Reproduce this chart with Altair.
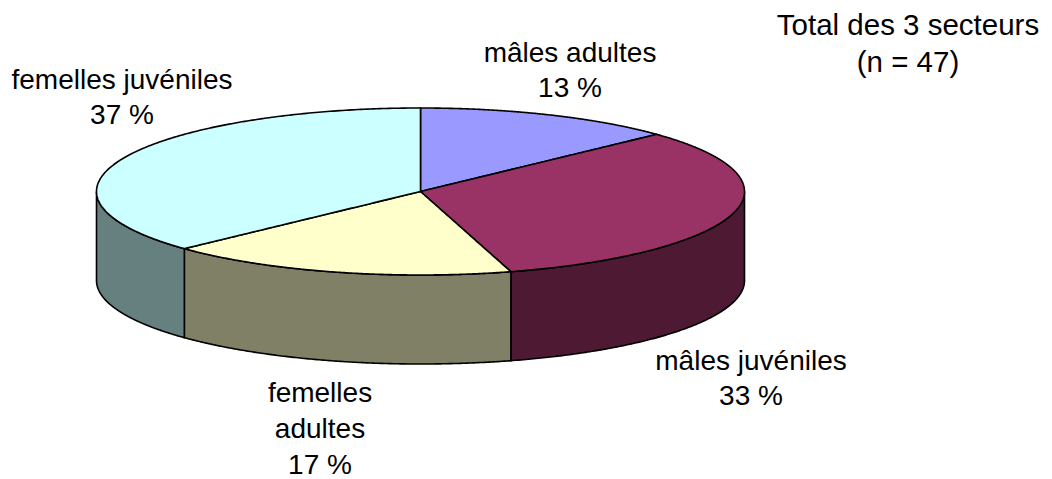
import numpy as np
import pandas as pd
import altair as alt

# Slice shares (clockwise from 12 o'clock)
slice_names = ["mâles adultes", "mâles juvéniles", "femelles adultes", "femelles juvéniles"]
slice_shares = [13.0, 32.5, 17.5, 37.0]
top_colors = ["#9999FF", "#993366", "#FFFFCC", "#CCFFFF"]
side_colors = ["#4D1933", "#4D1933", "#808066", "#668080"]

label_texts = ["mâles adultes", "13 %", "mâles juvéniles", "33 %", "femelles", "adultes", "17 %",
               "femelles juvéniles", "37 %"]
label_x = [570, 570, 751, 751, 320, 320, 320, 122, 122]
label_y = [54, 89, 362, 397, 394, 430, 466, 81, 116]
note_texts = ["Total des 3 secteurs", "(n = 47)"]
note_x = [908, 908]
note_y = [26, 63]

CX, CY, RX, RY, DEPTH = 420.5, 191.5, 324.0, 83.5, 89.0


def ex(t):
    return CX + RX * np.sin(t)


def ey(t):
    return CY - RY * np.cos(t)


edges = np.radians(np.cumsum([0] + slice_shares) * 3.6)
top_rows, side_rows = [], []
for i, name in enumerate(slice_names):
    a, b = edges[i], edges[i + 1]
    th = np.linspace(a, b, 240)
    px = np.r_[CX, ex(th), CX]
    py = np.r_[CY, ey(th), CY]
    xs = np.unique(np.round(px, 3))
    for x in xs:
        ys = []
        for j in range(len(px) - 1):
            x0, x1, y0, y1 = px[j], px[j + 1], py[j], py[j + 1]
            lo, hi = min(x0, x1) - 1e-3, max(x0, x1) + 1e-3
            if lo <= x <= hi:
                if abs(x1 - x0) < 1e-9:
                    ys += [y0, y1]
                else:
                    ys.append(y0 + (y1 - y0) * np.clip((x - x0) / (x1 - x0), 0, 1))
        top_rows.append(dict(name=name, x=x, y=min(ys), y2=max(ys), fill=top_colors[i]))
    lo, hi = max(a, np.pi / 2), min(b, 3 * np.pi / 2)
    if lo < hi:
        for t in np.linspace(lo, hi, 160):
            side_rows.append(dict(name=name, x=ex(t), y=ey(t), y2=ey(t) + DEPTH, fill=side_colors[i]))

top_df = pd.DataFrame(top_rows)
side_df = pd.DataFrame(side_rows)
text_df = pd.DataFrame(dict(text=label_texts, x=label_x, y=label_y))
note_df = pd.DataFrame(dict(text=note_texts, x=note_x, y=note_y))

xs = alt.Scale(domain=[8, 1044], nice=False, zero=False)
ys = alt.Scale(domain=[479, 8], nice=False, zero=False)


def piece(df):
    return alt.Chart(df).mark_area(stroke="black", strokeWidth=1.6, interpolate="linear").encode(
        x=alt.X("x:Q", scale=xs, axis=None),
        y=alt.Y("y:Q", scale=ys, axis=None),
        y2="y2:Q",
        fill=alt.Fill("fill:N", scale=None),
        detail="name:N",
    )


def words(df, size):
    return alt.Chart(df).mark_text(font="Liberation Sans", fontSize=size, color="black", align="center",
                                   baseline="middle").encode(
        x=alt.X("x:Q", scale=xs, axis=None),
        y=alt.Y("y:Q", scale=ys, axis=None),
        text="text:N",
    )


chart = alt.layer(piece(side_df), piece(top_df), words(text_df, 28), words(note_df, 29.5)).properties(
    width=1036, height=471, padding=0, autosize=alt.AutoSizeParams(type="none")
).configure_view(stroke=None)

chart.save("out.html", embed_options={"renderer": "svg", "actions": False})
